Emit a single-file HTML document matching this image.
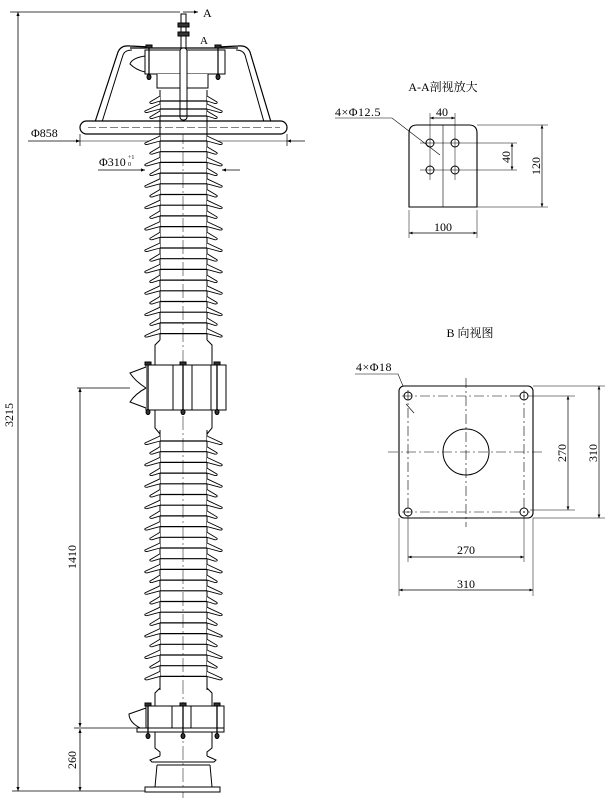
<!DOCTYPE html>
<html><head><meta charset="utf-8"><style>
html,body{margin:0;padding:0;background:#fff;}
svg{display:block;}
text{font-family:"Liberation Serif","Noto Serif CJK SC",serif;fill:#000;}
</style></head><body>
<svg width="614" height="809" viewBox="0 0 614 809" xmlns="http://www.w3.org/2000/svg">
<defs>
<marker id="ar" viewBox="0 0 10 10" refX="10" refY="5" markerWidth="7" markerHeight="5" orient="auto-start-reverse"><path d="M0,1 L10,5 L0,9 Z" fill="#000"/></marker>
<g id="L"><path d="M160,0 L145,7 Q144,8.5 147,8.5 L160,5 M207,0 L222,7 Q223,8.5 220,8.5 L207,5" fill="#fff" stroke="#000" stroke-width="0.9"/><line x1="160" y1="5" x2="207" y2="5" stroke="#000" stroke-width="1.2"/></g>
<g id="S"><path d="M160,0 L150,6 Q149,7.5 152,7.5 L160,5 M207,0 L217,6 Q218,7.5 215,7.5 L207,5" fill="#fff" stroke="#000" stroke-width="0.9"/><line x1="160" y1="5" x2="207" y2="5" stroke="#000" stroke-width="1.2"/></g>
</defs>
<g stroke="#000" fill="none" stroke-width="1">
<line x1="18" y1="12" x2="18" y2="791" marker-start="url(#ar)" marker-end="url(#ar)" stroke-width="0.8"/>
<line x1="10" y1="12" x2="180" y2="12" stroke-width="0.7"/>
<line x1="12" y1="791" x2="150" y2="791" stroke-width="0.8"/>
<line x1="80" y1="388" x2="80" y2="727" marker-start="url(#ar)" marker-end="url(#ar)" stroke-width="0.8"/>
<line x1="80" y1="729" x2="80" y2="791" marker-start="url(#ar)" marker-end="url(#ar)" stroke-width="0.8"/>
<line x1="77" y1="388" x2="130" y2="388" stroke-width="0.8"/>
<line x1="74" y1="728" x2="140" y2="728" stroke-width="0.8"/>
<line x1="28" y1="141" x2="80" y2="141" marker-end="url(#ar)" stroke-width="0.8"/>
<line x1="80" y1="134" x2="80" y2="146" stroke-width="0.7"/>
<line x1="287" y1="134" x2="287" y2="146" stroke-width="0.7"/>
<line x1="305" y1="141" x2="287" y2="141" marker-end="url(#ar)" stroke-width="0.8"/>
<line x1="80" y1="141" x2="287" y2="141" stroke-width="0.6"/>
<line x1="98" y1="170" x2="145" y2="170" marker-end="url(#ar)" stroke-width="0.8"/>
<line x1="240" y1="170" x2="222" y2="170" marker-end="url(#ar)" stroke-width="0.8"/>
<line x1="183" y1="20" x2="183" y2="798" stroke-width="0.5" stroke-dasharray="14,3,2,3"/>
<line x1="183" y1="12" x2="198" y2="12" marker-end="url(#ar)" stroke-width="0.8"/>
<rect x="181" y="14" width="5" height="36" fill="#fff"/>
<rect x="178" y="23" width="11" height="4" fill="#333"/>
<rect x="178" y="32" width="11" height="4" fill="#333"/>
<path d="M95,122 L118,52 Q121,45 130,46 L150,47" stroke-width="1.2"/>
<path d="M102,122 L123,55 Q125,50 132,50" stroke-width="1"/>
<path d="M271,122 L250,52 Q247,45 238,46 L218,47" stroke-width="1.2"/>
<path d="M264,122 L245,55 Q243,50 236,50" stroke-width="1"/>
<line x1="130" y1="48" x2="238" y2="48" stroke-width="1.2"/>
<rect x="145" y="50" width="80" height="24" fill="#fff"/>
<path d="M145,56 Q132,58 130,64 Q136,70 145,72"/>
<line x1="149" y1="46" x2="149" y2="76" stroke-width="1.2"/>
<line x1="218" y1="46" x2="218" y2="76" stroke-width="1.2"/>
<rect x="146" y="45" width="6" height="3" fill="#333"/><rect x="215" y="45" width="6" height="3" fill="#333"/>
<ellipse cx="149" cy="77" rx="2" ry="2.5" fill="#333"/><ellipse cx="218" cy="77" rx="2" ry="2.5" fill="#333"/>
<path d="M157,74 L157,88 L208,88 L208,74" fill="#fff"/>
<rect x="180" y="48" width="7" height="72" rx="3" fill="#fff"/>
<rect x="80" y="121" width="207" height="13" rx="6.5" fill="#fff" stroke-width="1.2"/>
<line x1="88" y1="127.5" x2="280" y2="127.5" stroke-width="0.5" stroke-dasharray="8,3"/>
<line x1="160" y1="90" x2="160" y2="340"/><line x1="207" y1="90" x2="207" y2="340"/>
<path d="M160,340 L155,345 L155,365 M207,340 L212,345 L212,365"/>
<rect x="146" y="365" width="80" height="45" fill="#fff"/>
<path d="M146,367 L130,373 Q135,381 146,388 Q135,394 130,402 L146,408" fill="#fff"/>
<line x1="173" y1="365" x2="173" y2="410"/><line x1="192" y1="365" x2="192" y2="410"/><line x1="211" y1="365" x2="211" y2="410"/>
<line x1="148" y1="362" x2="148" y2="414" stroke-width="1.3"/><line x1="183" y1="362" x2="183" y2="414" stroke-width="1.3"/><line x1="217" y1="362" x2="217" y2="414" stroke-width="1.3"/>
<rect x="145" y="362" width="6" height="3" fill="#333"/><rect x="180" y="362" width="6" height="3" fill="#333"/><rect x="214" y="362" width="6" height="3" fill="#333"/>
<ellipse cx="148" cy="412" rx="2" ry="2.5" fill="#333"/><ellipse cx="183" cy="412" rx="2" ry="2.5" fill="#333"/><ellipse cx="217" cy="412" rx="2" ry="2.5" fill="#333"/>
<path d="M155,410 L155,428 L160,434 M212,410 L212,428 L207,434"/>
<line x1="160" y1="430" x2="160" y2="690"/><line x1="207" y1="430" x2="207" y2="690"/>
<path d="M160,688 L155,693 L155,706 M207,688 L212,693 L212,706"/>
<rect x="146" y="706" width="78" height="22" fill="#fff"/>
<path d="M146,708 L129,714 Q129,722 140,728"/>
<line x1="172" y1="706" x2="172" y2="728"/><line x1="191" y1="706" x2="191" y2="728"/>
<rect x="137" y="728" width="87" height="4" fill="#fff"/>
<line x1="148" y1="704" x2="148" y2="736" stroke-width="1.3"/><line x1="183" y1="704" x2="183" y2="736" stroke-width="1.3"/><line x1="217" y1="704" x2="217" y2="736" stroke-width="1.3"/>
<rect x="145" y="703" width="6" height="3" fill="#333"/><rect x="180" y="703" width="6" height="3" fill="#333"/><rect x="214" y="703" width="6" height="3" fill="#333"/>
<ellipse cx="148" cy="736" rx="2" ry="2.5" fill="#333"/><ellipse cx="183" cy="736" rx="2" ry="2.5" fill="#333"/><ellipse cx="217" cy="736" rx="2" ry="2.5" fill="#333"/>
<path d="M155,732 L155,748 L160,752 L160,756 M212,732 L212,748 L207,752 L207,756"/>
<path d="M160,756 L150,760 L152,762 L214,762 L216,760 L207,756"/>
<path d="M157,765 L155,787 M210,765 L212,787"/><line x1="157" y1="765" x2="210" y2="765"/>
<rect x="145" y="787" width="75" height="5" fill="#fff"/>
</g>
<g>
<use href="#S" y="96"/><use href="#L" y="104"/><use href="#S" y="111"/>
<use href="#L" y="136"/><use href="#S" y="146.7"/><use href="#L" y="157.4"/><use href="#S" y="168.1"/><use href="#L" y="178.8"/><use href="#S" y="189.5"/><use href="#L" y="200.2"/><use href="#S" y="210.9"/><use href="#L" y="221.6"/><use href="#S" y="232.3"/><use href="#L" y="243"/><use href="#S" y="253.7"/><use href="#L" y="264.4"/><use href="#S" y="275.1"/><use href="#L" y="285.8"/><use href="#S" y="296.5"/><use href="#L" y="307.2"/><use href="#S" y="317.9"/><use href="#L" y="328.6"/>
<use href="#L" y="436"/><use href="#S" y="446.7"/><use href="#L" y="457.4"/><use href="#S" y="468.1"/><use href="#L" y="478.8"/><use href="#S" y="489.5"/><use href="#L" y="500.2"/><use href="#S" y="510.9"/><use href="#L" y="521.6"/><use href="#S" y="532.3"/><use href="#L" y="543"/><use href="#S" y="553.7"/><use href="#L" y="564.4"/><use href="#S" y="575.1"/><use href="#L" y="585.8"/><use href="#S" y="596.5"/><use href="#L" y="607.2"/><use href="#S" y="617.9"/><use href="#L" y="628.6"/><use href="#S" y="639.3"/><use href="#L" y="650"/><use href="#S" y="660.7"/><use href="#L" y="671.4"/>
</g>
<text x="203" y="17" font-size="12">A</text>
<text x="200" y="44" font-size="11">A</text>
<text x="31" y="137" font-size="12">Φ858</text>
<text x="99" y="166" font-size="12">Φ310</text><text x="128" y="159" font-size="6">+1</text><text x="128" y="166" font-size="6">0</text>
<text transform="translate(13,415) rotate(-90)" font-size="12" text-anchor="middle">3215</text>
<text transform="translate(76,557) rotate(-90)" font-size="12" text-anchor="middle">1410</text>
<text transform="translate(76,760) rotate(-90)" font-size="12" text-anchor="middle">260</text>
<text x="443" y="91" font-size="12" text-anchor="middle">A-A剖视放大</text>
<g stroke="#000" fill="none" stroke-width="1">
<path d="M409,207 L409,133 Q409,125 417,125 L469,125 Q477,125 477,133 L477,207 Z" stroke-width="1.1"/>
<line x1="443" y1="125" x2="443" y2="207" stroke-width="0.6"/>
<circle cx="430" cy="143" r="4"/><circle cx="455" cy="143" r="4"/><circle cx="430" cy="170" r="4"/><circle cx="455" cy="170" r="4"/>
<g stroke-width="0.5"><line x1="420" y1="143" x2="517" y2="143"/><line x1="420" y1="170" x2="517" y2="170"/><line x1="430" y1="113" x2="430" y2="180"/><line x1="455" y1="113" x2="455" y2="180"/>
<line x1="477" y1="125" x2="548" y2="125"/><line x1="477" y1="207" x2="548" y2="207"/><line x1="409" y1="210" x2="409" y2="238"/><line x1="477" y1="210" x2="477" y2="238"/></g>
<line x1="430" y1="118" x2="455" y2="118" marker-start="url(#ar)" marker-end="url(#ar)" stroke-width="0.7"/>
<line x1="512" y1="143" x2="512" y2="170" marker-start="url(#ar)" marker-end="url(#ar)" stroke-width="0.7"/>
<line x1="542" y1="125" x2="542" y2="207" marker-start="url(#ar)" marker-end="url(#ar)" stroke-width="0.7"/>
<line x1="409" y1="233" x2="477" y2="233" marker-start="url(#ar)" marker-end="url(#ar)" stroke-width="0.7"/>
<path d="M335,118 L392,118 L440,155" stroke-width="0.6"/>
</g>
<text x="335" y="116" font-size="12" letter-spacing="0.5">4×Φ12.5</text>
<text x="442" y="116" font-size="12" text-anchor="middle">40</text>
<text transform="translate(510,157) rotate(-90)" font-size="12" text-anchor="middle">40</text>
<text transform="translate(540,166) rotate(-90)" font-size="12" text-anchor="middle">120</text>
<text x="443" y="231" font-size="12" text-anchor="middle">100</text>
<text x="470" y="337" font-size="12" text-anchor="middle">B  向视图</text>
<g stroke="#000" fill="none" stroke-width="1">
<rect x="399" y="386" width="134" height="132" rx="5" stroke-width="1.1"/>
<circle cx="466" cy="452" r="23"/>
<circle cx="408" cy="396" r="4"/><circle cx="524" cy="396" r="4"/><circle cx="408" cy="512" r="4"/><circle cx="524" cy="512" r="4"/>
<g stroke-width="0.6" stroke-dasharray="10,3,2,3"><line x1="466" y1="378" x2="466" y2="527"/><line x1="388" y1="452" x2="545" y2="452"/>
<line x1="402" y1="396" x2="530" y2="396"/><line x1="402" y1="512" x2="530" y2="512"/><line x1="408" y1="390" x2="408" y2="518"/><line x1="524" y1="390" x2="524" y2="518"/></g>
<g stroke-width="0.5"><line x1="530" y1="396" x2="575" y2="396"/><line x1="530" y1="510" x2="575" y2="510"/><line x1="533" y1="386" x2="605" y2="386"/><line x1="533" y1="518" x2="605" y2="518"/>
<line x1="408" y1="518" x2="408" y2="562"/><line x1="524" y1="518" x2="524" y2="562"/><line x1="399" y1="518" x2="399" y2="596"/><line x1="533" y1="518" x2="533" y2="596"/></g>
<line x1="568" y1="396" x2="568" y2="510" marker-start="url(#ar)" marker-end="url(#ar)" stroke-width="0.7"/>
<line x1="599" y1="386" x2="599" y2="518" marker-start="url(#ar)" marker-end="url(#ar)" stroke-width="0.7"/>
<line x1="408" y1="557" x2="524" y2="557" marker-start="url(#ar)" marker-end="url(#ar)" stroke-width="0.7"/>
<line x1="399" y1="590" x2="533" y2="590" marker-start="url(#ar)" marker-end="url(#ar)" stroke-width="0.7"/>
<path d="M355,374 L398,374 L403,386 M406,404 L414,413" stroke-width="0.6"/>
</g>
<text x="356" y="371" font-size="12" letter-spacing="0.5">4×Φ18</text>
<text transform="translate(566,453) rotate(-90)" font-size="12" text-anchor="middle">270</text>
<text transform="translate(597,453) rotate(-90)" font-size="12" text-anchor="middle">310</text>
<text x="466" y="554" font-size="12" text-anchor="middle">270</text>
<text x="466" y="588" font-size="12" text-anchor="middle">310</text>
</svg>
</body></html>
